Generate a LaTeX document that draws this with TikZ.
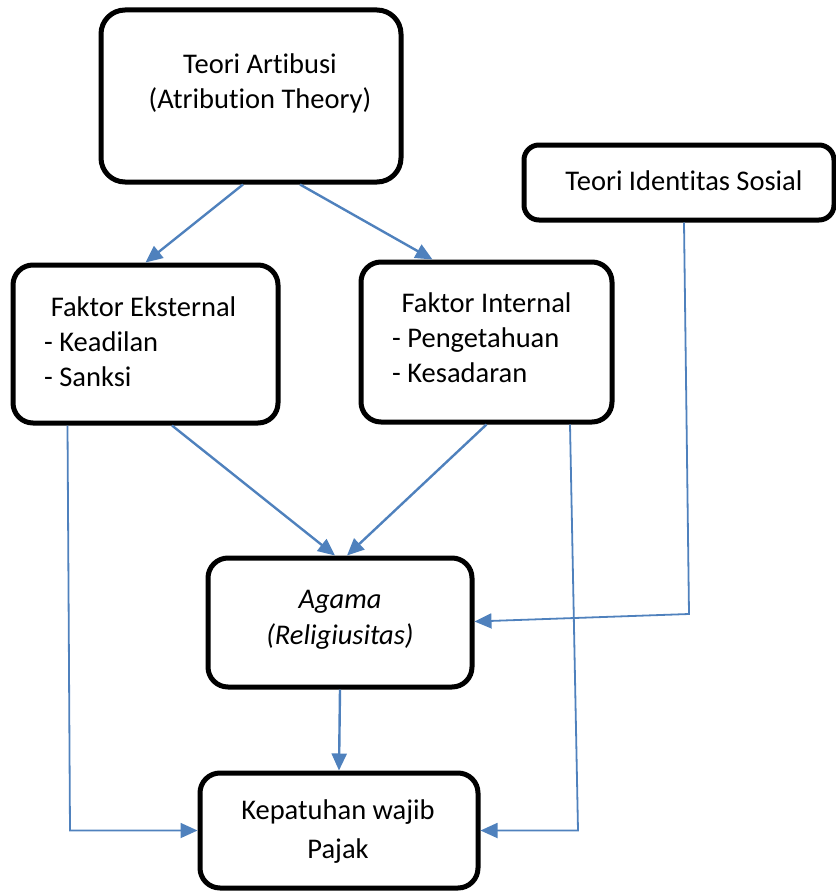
\documentclass[tikz,border=0pt]{standalone}
\usepackage{fontspec}
\setmainfont[Ligatures=NoCommon]{Carlito}
\usepackage{tikz}
\usetikzlibrary{arrows.meta,calc}
\definecolor{steelblue}{RGB}{79,129,189}

\begin{document}
\begin{tikzpicture}[x=1pt, y=-1pt,
	kotak/.style={draw, line width=5pt, rounded corners=20pt, inner sep=0pt},
	teks/.style={font=\fontsize{28.5}{35}\selectfont, inner sep=0pt},
	panah/.style={draw=steelblue, line width=2.4pt, -{Triangle[length=17pt,width=15pt]}},
	siku/.style={panah, line width=1.8pt}]

		\useasboundingbox (0,0) rectangle (835,891);

		% kotak-kotak utama
		\node[kotak, rounded corners=24pt, minimum width=300pt, minimum height=172pt] (artibusi) at (251,96) {};
		\node[kotak, rounded corners=15pt, minimum width=310pt, minimum height=75pt] (identitas) at (679,182.5) {};
		\node[kotak, minimum width=265pt, minimum height=158pt] (eksternal) at (145.5,344) {};
		\node[kotak, minimum width=251pt, minimum height=160pt] (internal) at (486.5,342) {};
		\node[kotak, minimum width=264pt, minimum height=129pt] (agama) at (340,622.5) {};
		\node[kotak, minimum width=278pt, minimum height=115pt] (kepatuhan) at (339,830.5) {};

		% teks di dalam kotak
		\node[teks, align=center] (artibusi-teks) at (260,83) {Teori Artibusi\\(Atribution Theory)};
		\node[teks] (identitas-teks) at (684,181) {Teori Identitas Sosial};
		\node[teks, align=left, anchor=west] (eksternal-teks) at (44,342) {\hspace*{.23em}Faktor Eksternal\\- Keadilan\\- Sanksi};
		\node[teks, align=left, anchor=west] (internal-teks) at (392,338) {\hspace*{.33em}Faktor Internal\\- Pengetahuan\\- Kesadaran};
		\node[teks, align=center, font=\fontsize{28.5}{36}\selectfont\itshape] (agama-teks) at (340,620) {Agama\\(Religiusitas)};
		\node[teks, align=center, font=\fontsize{28.5}{39}\selectfont] (kepatuhan-teks) at (338,832) {Kepatuhan wajib\\Pajak};

		% titik belok garis siku
		\coordinate (belok-identitas) at (689,614);
		\coordinate (belok-eksternal) at (70,830.5);
		\coordinate (belok-internal) at (578,830.5);

		% panah dari teori atribusi
		\draw[panah] ($(artibusi.south)+(-8,0)$) -- (eksternal.north);
		\draw[panah] ($(artibusi.south)+(49,0)$) -- ($(internal.north)+(-54,0)$);

		% panah menuju agama
		\draw[panah] ($(eksternal.south)+(26.5,0)$) -- ($(agama.north)+(-5,0)$);
		\draw[panah] (internal.south) -- ($(agama.north)+(7,0)$);
		\draw[siku] ($(identitas.south)+(5,0)$) -- (belok-identitas) -- ($(agama.east)+(0,-1)$);

		% panah menuju kepatuhan
		\draw[panah] (agama.south) -- (kepatuhan.north);
		\draw[siku] ($(eksternal.south west)+(57,0)$) -- (belok-eksternal) -- (kepatuhan.west);
		\draw[siku] ($(internal.south)+(83.5,0)$) -- (belok-internal) -- (kepatuhan.east);

\end{tikzpicture}
\end{document}
